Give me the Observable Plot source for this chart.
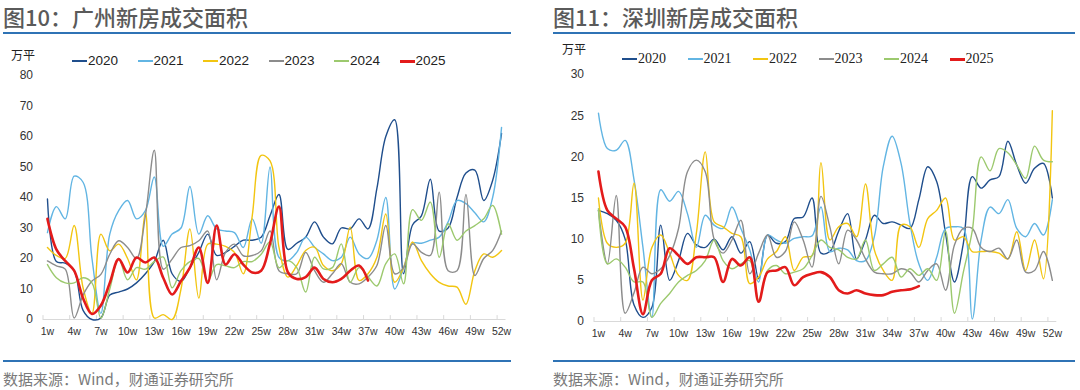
<!DOCTYPE html>
<html><head><meta charset="utf-8">
<script src="https://cdn.jsdelivr.net/npm/d3@7"></script>
<script src="https://cdn.jsdelivr.net/npm/@observablehq/plot@0.6"></script>
<style>
body{margin:0;width:1080px;height:390px;background:#fff;position:relative;overflow:hidden;font-family:"Liberation Sans",Arial,sans-serif;}
.title{position:absolute;top:1px;font-family:"Noto Sans CJK SC";font-size:22px;color:#5a5a5a;font-weight:500;white-space:nowrap;line-height:30px}
.rule{position:absolute;height:2px;background:#2f73b5}
.unit{position:absolute;font-family:"Noto Sans CJK SC";font-size:12px;color:#222;line-height:14px}
.legend{position:absolute;font-size:13.5px;color:#222;display:flex;line-height:16px}
.legend .item{display:inline-flex;align-items:center;width:65.5px}
.legend .sw{display:inline-block;width:15px;height:2px;margin-right:1px}
.source{position:absolute;top:368px;font-family:"Noto Sans CJK SC";font-size:15px;color:#7a7a7a;white-space:nowrap;line-height:22px}
.chart{position:absolute;top:65px}
</style></head>
<body>
<div class="title" style="left:3px">图10：广州新房成交面积</div>
<div class="title" style="left:553px">图11：深圳新房成交面积</div>
<div class="rule" style="left:3px;width:508px;top:32px"></div>
<div class="rule" style="left:553px;width:522px;top:32px"></div>
<div class="unit" style="left:11px;top:48px">万平</div>
<div class="unit" style="left:562px;top:42px">万平</div>
<div class="legend" id="legL" style="left:72px;top:53px"></div>
<div class="legend" id="legR" style="left:622px;top:51px;font-family:'Liberation Serif','Times New Roman',serif;font-size:14px"></div>
<div class="chart" id="left" style="left:0px"></div>
<div class="chart" id="right" style="left:550px"></div>
<div class="rule" style="left:3px;width:508px;top:360px"></div>
<div class="rule" style="left:553px;width:522px;top:360px"></div>
<div class="source" style="left:3px">数据来源：Wind，财通证券研究所</div>
<div class="source" style="left:553px">数据来源：Wind，财通证券研究所</div>
<script>
const years = ["2020","2021","2022","2023","2024","2025"];
const colors = ["#1f4e8c","#62b5e3","#f2c511","#8c8c8c","#9cc96e","#e31b1b"];
const weeks = [1,2,3,4,5,6,7,8,9,10,11,12,13,14,15,16,17,18,19,20,21,22,23,24,25,26,27,28,29,30,31,32,33,34,35,36,37,38,39,40,41,42,43,44,45,46,47,48,49,50,51,52];
const labelWeeks = [1,4,7,10,13,16,19,22,25,28,31,34,37,40,43,46,49,52];
const tickMarks = [0.5,3.5,6.5,9.5,12.5,15.5,18.5,21.5,24.5,27.5,30.5,33.5,36.5,39.5,42.5,45.5,48.5,51.5];
const gzTicks = [0,10,20,30,40,50,60,70,80];
const szTicks = [0,5,10,15,20,25,30];

// 广州 (万平)
const gz2020 = [39.5,19,18.5,16,3,0,0.5,8,9,10,12,15,19,26,15,12.5,17,22,28,21,22,24,26,26,27,34,41,23,25,27,32,27,24.8,30,29.7,33,29.7,43,60,65.5,15,31,34,46,29,30,40,48,49,39,45.6,61];
const gz2021 = [28.5,37,33,47,45,20,2,28,35.7,39,33,35.7,46.7,24,28,30,43.6,28,34,29.7,29,28.5,23.6,33,25,50,20.4,19.3,22,27,23.7,21.5,19.3,20.4,27,21.5,20,26,40,10,17,25,25,26,27,32,39,38,35,32,40,63];
const gz2022 = [23.6,21,20,30.8,10.4,2,28,22.5,24.7,20,13,35,0.5,1.6,0,10,29.7,7,24.7,24.7,24,22,15,34,53.8,52,23.7,13.9,17.7,22.6,23.7,17.7,16,18.3,30.3,12.8,15,20.4,34.6,12.2,17,25.4,19.3,15,12.2,11,10.6,5,16,21.5,20.4,22.6];
const gz2023 = [19.2,17.6,16.5,0.5,8,12.6,14.8,21.4,25.8,23.6,20,34,55.5,16.5,19.8,23.6,24.2,25.8,29,13,22,24.7,20.9,21,22.5,29,16,15,15,22,16,12.2,15,18.3,12.2,11.7,13.9,17.7,30.8,15,17,24.8,22,21,41.7,16,16,41,14.4,20,22.6,29];
const gz2024 = [18,13.7,12,12,13.7,12,0.5,10,20,13,17,16.5,19,20.5,10.4,16,19,20,12.6,18,17.6,17,19,19,21.4,25.5,17,19.3,17,9,20.4,16.6,17,24.8,12.2,17,14,11,18.3,21.5,11.7,36,32.5,38.5,20.4,31.4,26,29,30.8,33,37.4,28];
const gz2025 = [33,23,19.2,16,7,1.8,4.6,12,19.8,15.4,20.3,18.7,20.3,13.7,8.2,12.6,17,23.6,12,30.8,18,21.4,18,15.4,16,25,37,15.5,13.3,13.9,17,13.3,12.2,13.3,16,17.7,12.8];

// 深圳 (万平)
const sz2020 = [13.5,13.1,12.3,10,2,0.5,1.7,11.7,5,7.4,10.7,9.3,9,10,8.7,10.3,8.3,9.7,5.2,10.5,9.5,9.7,12.5,12.7,15,8.3,8.5,11,13.1,7.6,9.9,12.9,11.9,12.1,11.7,11.3,14.8,18.8,17,10.7,4.8,9.5,17.6,16.2,17.2,17.6,21.9,19,16.8,18.6,19.2,15];
const sz2021 = [25.3,21,20.8,22,17.2,9,0.5,16,14.6,15.8,13.1,9,12.9,11.7,11.3,13.9,11.3,8.7,4.8,10.5,9.9,9.5,10.1,10.3,10.4,13.9,8.5,8.9,8.7,7.4,7.4,10.3,18.8,22.5,19.2,11.9,7,5,7.8,11.3,11.5,11.3,0.3,9.9,13.9,13.1,14.8,11.3,10.3,11.9,10.5,14.8];
const sz2022 = [15,9.5,9,9.5,16.8,2.6,9,10.5,8.3,5.6,5,10.7,20.6,12.1,11.5,10.7,10.3,4.6,5.4,7.6,8.5,10.3,6.2,7.8,8,19.3,9.9,11.5,11.9,10.3,16.7,8.7,6.2,5,11.7,11.5,9,12.5,13.5,15,9.9,10.3,8.5,8.5,8.5,8.3,7.6,10.9,6.2,9.9,5.2,25.6];
const sz2023 = [13.5,7,15.3,1,3.5,6.6,5.8,6.4,8,11.3,18.2,19.6,18.2,10,8.3,9.9,12.3,5.8,8.3,10.5,7.8,8.5,12.1,9.9,6.6,15.2,11.5,7,11.1,9.9,7.6,6,5.8,5.8,6.4,6,4.8,6.2,7,3.8,9.3,11.3,11.3,9,8.5,8.9,7.6,9.9,6,6.2,8.5,5];
const sz2024 = [13.7,7,7.6,6.6,4.8,4.8,0.5,2.2,3.4,4.8,5.6,6.2,7.4,9.9,7.4,6.4,7,7.4,2.6,6.2,6.8,5.8,6,6.4,8,9.9,9,8.7,7.8,7.6,9.9,6.2,7,7.8,5.4,6.4,5.6,6.4,5,11,1,6,11,20,18.3,21,20.5,19,17.4,21.3,19.6,19.4];
const sz2025 = [18.2,13.5,12.5,11.5,6.4,0.9,5,5.8,8.9,8,7,7.8,7.8,7.8,4.8,7.6,6.8,7.8,2.4,6,6.2,6.6,4.4,5.4,5.8,6,5.4,3.8,3.4,3.8,3.4,3.2,3.2,3.6,3.8,3.9,4.3];

const gzSeries = [gz2020,gz2021,gz2022,gz2023,gz2024,gz2025];
const szSeries = [sz2020,sz2021,sz2022,sz2023,sz2024,sz2025];

function legend(id){
  const el = document.getElementById(id);
  years.forEach((y,i)=>{
    const it = document.createElement("span"); it.className="item";
    const sw = document.createElement("span"); sw.className="sw"; sw.style.background=colors[i];
    if (i===5) sw.style.height="3px";
    it.appendChild(sw); it.appendChild(document.createTextNode(y)); el.appendChild(it);
  });
}
legend("legL"); legend("legR");

function panel(series, yTicks, o){
  const yMax = yTicks[yTicks.length-1];
  const marks = [
    Plot.ruleY([0], {stroke:"#d9d9d9"}),
    Plot.ruleX(tickMarks, {x: d=>d, y1: 0, y2: yMax*0.016, stroke:"#d9d9d9"}),
    Plot.axisY({ticks: yTicks, tickSize:0, tickPadding:10, fontSize:12, label:null}),
    Plot.axisX({ticks: labelWeeks, tickSize:0, tickPadding:8, fontSize:10.5, tickFormat: d=>d+"w", label:null})
  ];
  series.forEach((s,i)=>{
    marks.push(Plot.line(s.map((v,j)=>({week: weeks[j], value: v})), {
      x:"week", y:"value", stroke: colors[i], strokeWidth: i===5?2.6:1.4, curve:"catmull-rom"
    }));
  });
  return Plot.plot({
    width:o.width, height:280,
    marginTop:o.mt, marginBottom:o.mb, marginLeft:o.ml, marginRight:o.mr,
    x:{domain:[0.5,52.5], axis:null, label:null},
    y:{domain:[0,yMax], axis:null, label:null},
    style:{fontFamily:"'Liberation Sans', Arial, sans-serif", color:"#333", background:"transparent", overflow:"visible"},
    marks
  });
}
document.getElementById("left").appendChild(panel(gzSeries, gzTicks, {width:520, mt:10, mb:26, ml:42.5, mr:14.5}));
document.getElementById("right").appendChild(panel(szSeries, szTicks, {width:530, mt:9, mb:24, ml:43.5, mr:23.7}));
</script>
</body></html>
